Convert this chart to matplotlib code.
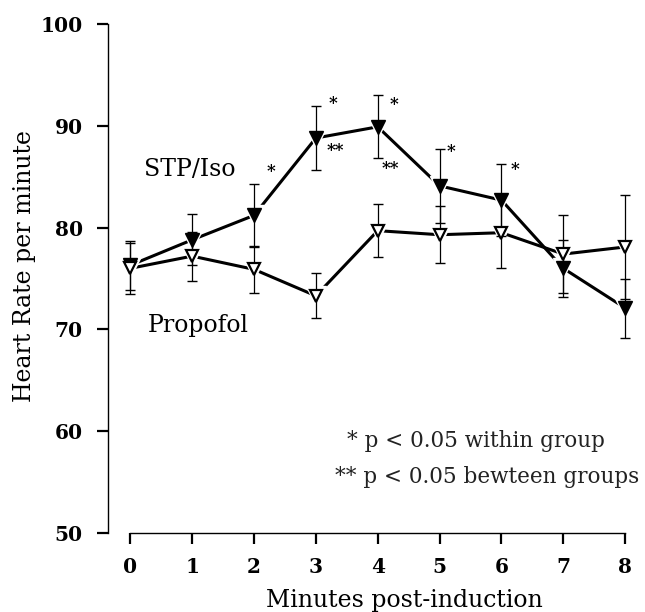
import numpy as np
import matplotlib
matplotlib.use("Agg")
import matplotlib.pyplot as plt

minutes = [0, 1, 2, 3, 4, 5, 6, 7, 8]
stp_iso = [76.3, 78.8, 81.2, 88.8, 89.9, 84.1, 82.7, 76.0, 72.1]
stp_iso_err = [2.4, 2.5, 3.1, 3.1, 3.1, 3.6, 3.5, 2.8, 2.9]
propofol = [76.0, 77.2, 75.9, 73.3, 79.7, 79.3, 79.5, 77.4, 78.1]
propofol_err = [2.5, 2.4, 2.3, 2.2, 2.6, 2.8, 3.5, 3.8, 5.1]

# significance marks: (x, y, text)
marks = [(2.28, 85.5, "*"), (3.28, 92.2, "*"), (3.31, 87.6, "**"),
         (4.26, 92.1, "*"), (4.20, 85.8, "**"), (5.18, 87.5, "*"),
         (6.22, 85.7, "*")]

plt.rcParams['font.family'] = ['DejaVu Serif']

fig = plt.figure(figsize=(6.45, 6.12), dpi=100)
ax = fig.add_axes([0.1674, 0.129, 0.8211, 0.8318])

# lines
ax.plot(minutes, stp_iso, 'k-', lw=2.2, zorder=2)
ax.plot(minutes, propofol, 'k-', lw=2.2, zorder=2)
# white halos so the lines stop short of the markers
ax.plot(minutes, stp_iso, 'v', ms=15, color='white', zorder=3)
ax.plot(minutes, propofol, 'v', ms=15, color='white', zorder=3)

ax.errorbar(minutes, stp_iso, yerr=stp_iso_err, fmt='none', ecolor='black',
            elinewidth=0.9, capsize=3.6, capthick=1.0, zorder=4)
ax.errorbar(minutes, propofol, yerr=propofol_err, fmt='none', ecolor='black',
            elinewidth=0.9, capsize=3.6, capthick=1.0, zorder=4)

ax.plot(minutes, stp_iso, 'v', ms=10, mfc='black', mec='black', zorder=5)
ax.plot(minutes, propofol, 'v', ms=9, mfc='white', mec='black', mew=1.6, zorder=5)

for x, y, t in marks:
    ax.text(x, y, t, fontsize=12, fontweight='bold', ha='center', va='center')

ax.text(0.23, 85.75, "STP/Iso", fontsize=17, ha='left', va='center')
ax.text(0.28, 70.4, "Propofol", fontsize=17, ha='left', va='center')

ax.text(3.5, 59.0, "* p < 0.05 within group", fontsize=15.5, ha='left', va='center',
        color='#222222')
ax.text(3.31, 55.5, "** p < 0.05 bewteen groups", fontsize=15.5, ha='left', va='center',
        color='#222222')

ax.set_xlim(-0.36, 8.2)
ax.set_ylim(50, 100)
ax.set_xticks(minutes)
ax.set_yticks([50, 60, 70, 80, 90, 100])
ax.spines['top'].set_visible(False)
ax.spines['right'].set_visible(False)
ax.spines['bottom'].set_bounds(0, 8)
ax.spines['bottom'].set_linewidth(1.0)
ax.spines['left'].set_linewidth(1.0)
ax.tick_params(axis='x', direction='out', length=8, width=1.6, pad=9, labelsize=14.5)
ax.tick_params(axis='y', direction='out', length=8, width=1.6, pad=10, labelsize=14.5)
for lab in ax.get_xticklabels() + ax.get_yticklabels():
    lab.set_fontweight('bold')

fig.text(404 / 645, 1 - 601 / 612, "Minutes post-induction", fontsize=17,
         ha='center', va='center')
fig.text(25 / 645, 1 - 266 / 612, "Heart Rate per minute", fontsize=17,
         ha='center', va='center', rotation=90)

fig.savefig("out.png", dpi=100)
